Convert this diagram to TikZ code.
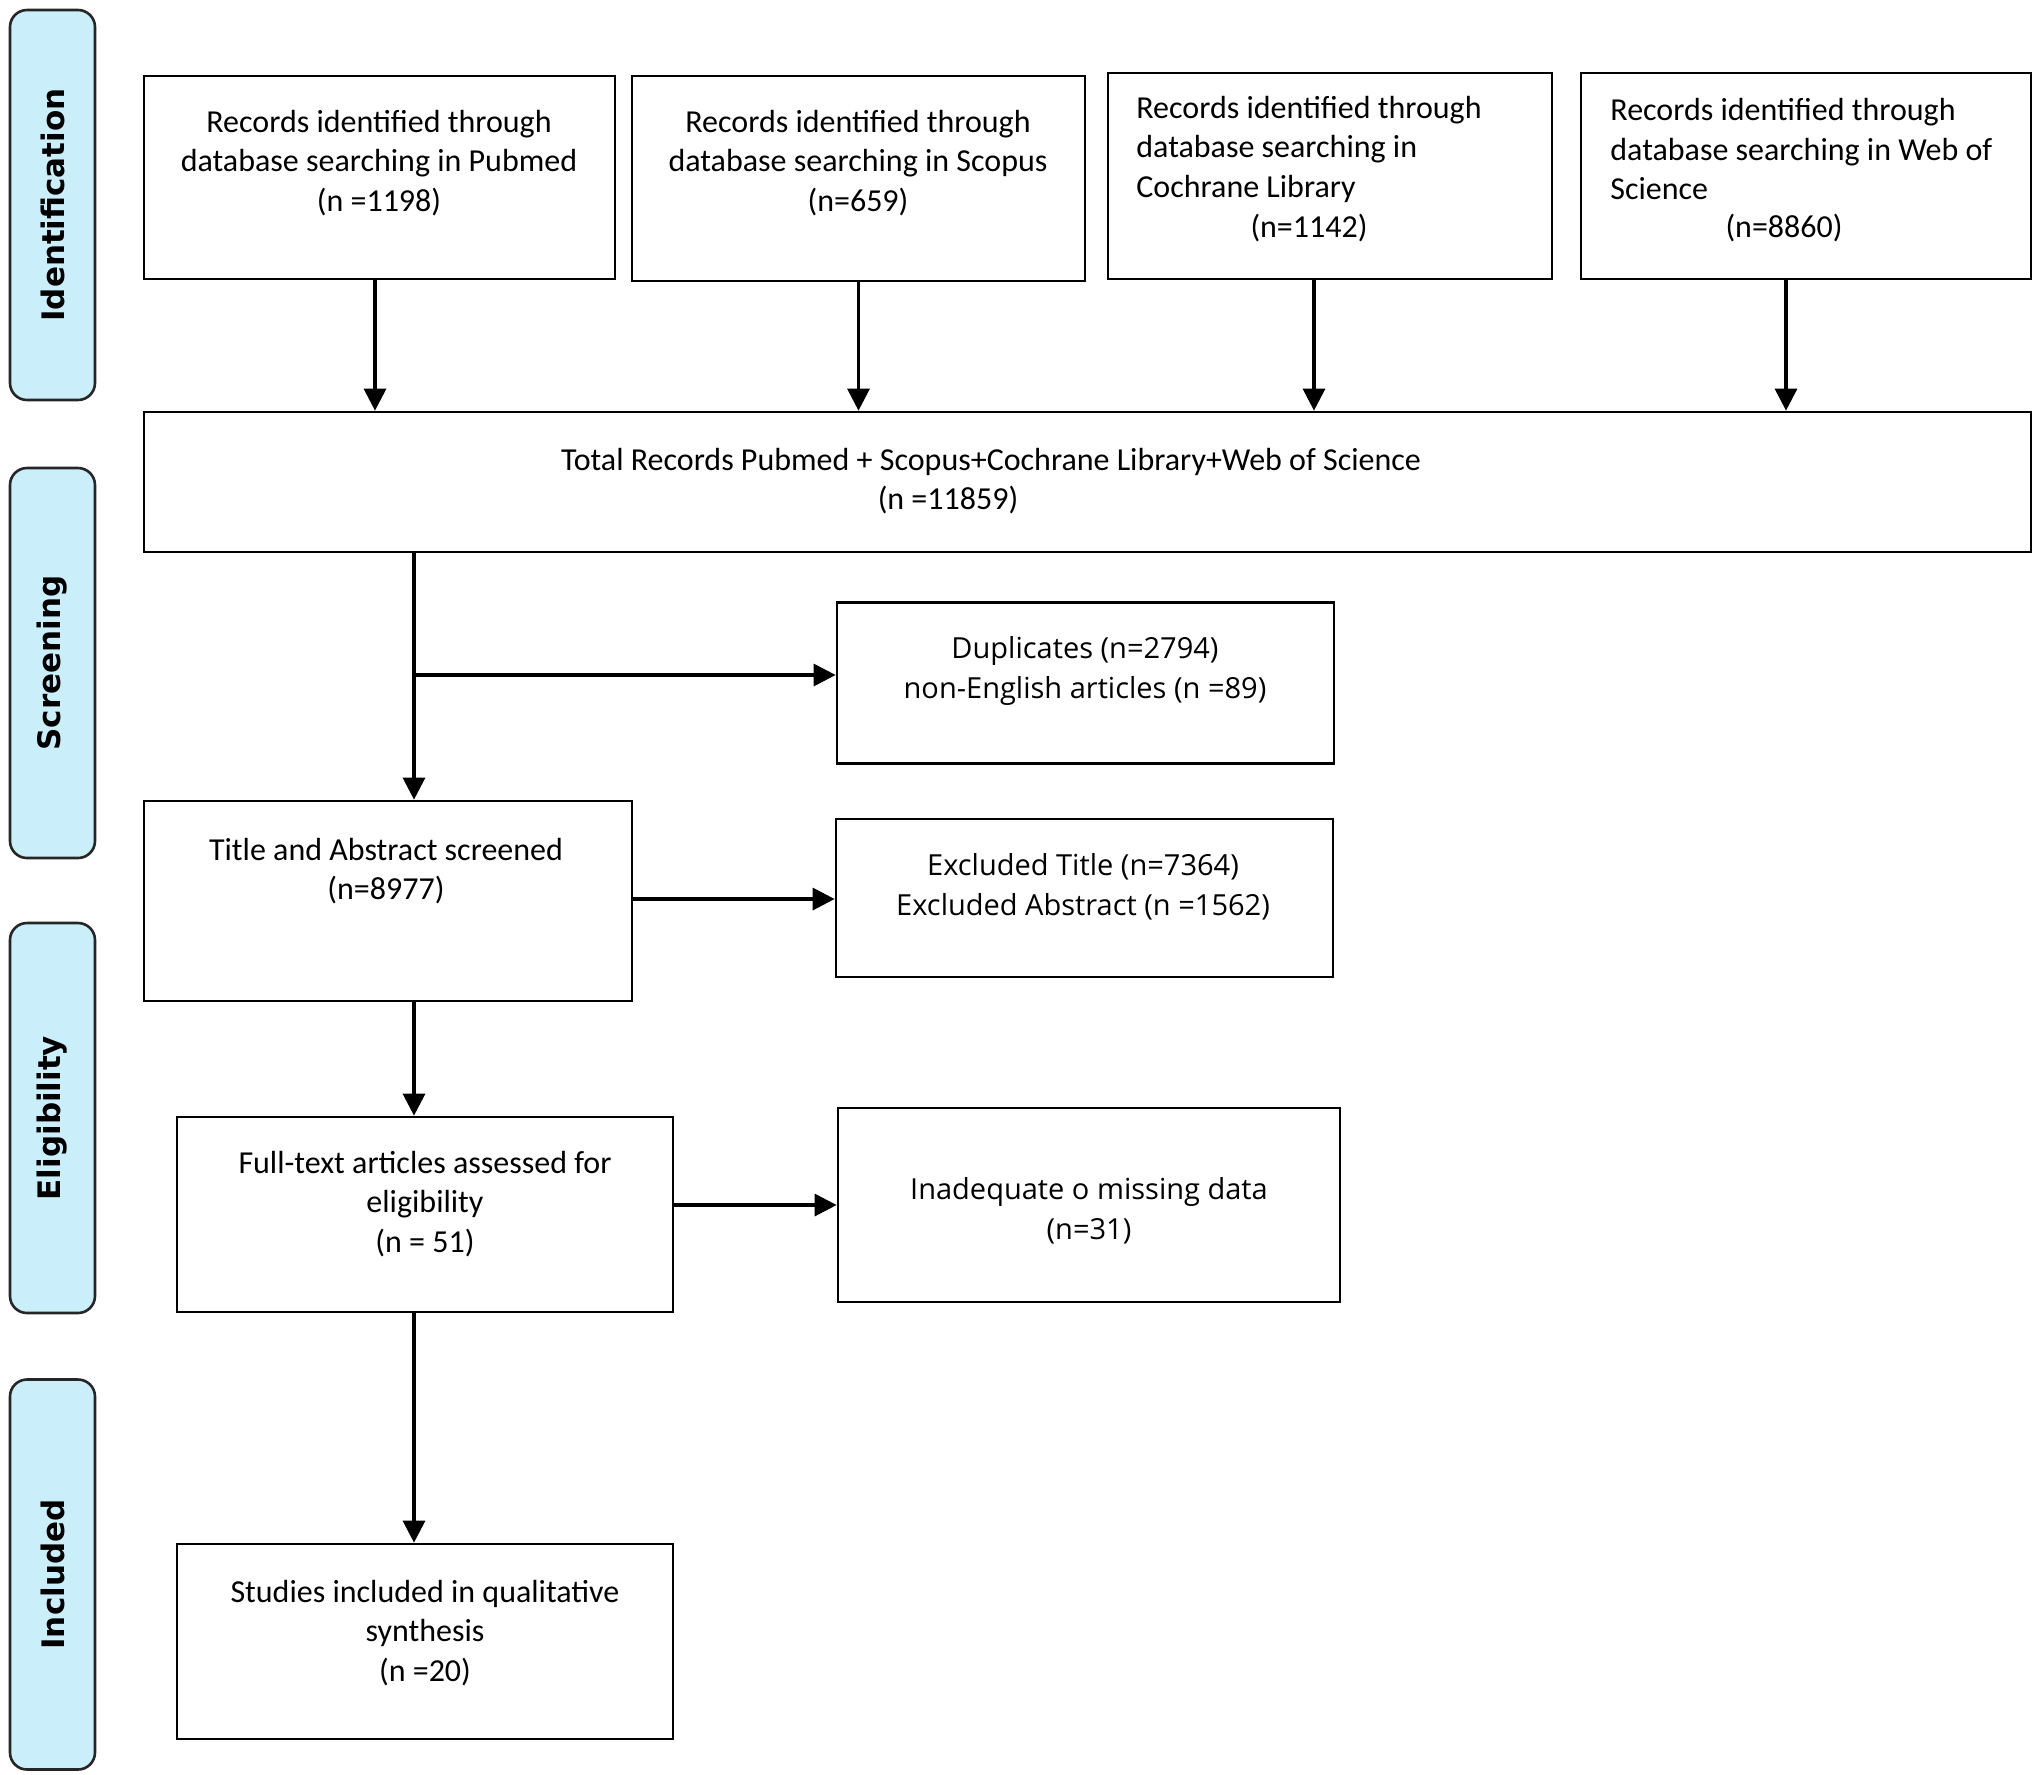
\documentclass[tikz,border=0pt]{standalone}
\usepackage{fontspec}
\setmainfont{Carlito}
\newfontfamily\widefont{Open Sans}
\newfontfamily\sidefont{DejaVu Sans}
\usetikzlibrary{arrows.meta}
\definecolor{sideblue}{HTML}{CBEEFB}
\begin{document}
\begin{tikzpicture}[x=0.5pt,y=-0.5pt,
 box/.style={draw=black,line width=1.35pt,inner sep=0pt},
 side/.style={draw=black!85,line width=1.3pt,fill=sideblue,rounded corners=8.5pt,
   font=\sidefont\bfseries\fontsize{15.5}{18}\selectfont,
   minimum width=195pt,minimum height=42.5pt,rotate=90,inner sep=0pt},
 txt/.style={inner sep=0pt,align=center,font=\fontsize{16}{19.75}\selectfont},
 wtxt/.style={inner sep=0pt,align=center,font=\widefont\fontsize{14.5}{19.75}\selectfont},
 arr/.style={line width=1.6pt,-{Triangle[length=11pt,width=11pt]}}]
\useasboundingbox (0,0) rectangle (2044,1774);
% side labels
\node[side] (ident) at (52.5,205) {Identification};
\node[side] (scr) at (52.5,663) {Screening};
\node[side] (elig) at (52.5,1118) {Eligibility};
\node[side] (incl) at (52.5,1574.5) {Included};
% boxes
\node[box,minimum width=235.5pt,minimum height=101.5pt] (pub) at (379.5,177.5) {};
\node[box,minimum width=226.5pt,minimum height=102.5pt] (sco) at (858.5,178.5) {};
\node[box,minimum width=222pt,minimum height=103pt] (coch) at (1330,176) {};
\node[box,minimum width=225pt,minimum height=103pt] (wos) at (1806,176) {};
\node[box,minimum width=943.5pt,minimum height=70pt] (total) at (1087.5,482) {};
\node[box,minimum width=248.5pt,minimum height=80.5pt] (dup) at (1085.5,683) {};
\node[box,minimum width=244pt,minimum height=100pt] (title) at (388,901) {};
\node[box,minimum width=248.5pt,minimum height=79pt] (excl) at (1084.5,898) {};
\node[box,minimum width=248pt,minimum height=97.5pt] (full) at (425,1214.5) {};
\node[box,minimum width=251pt,minimum height=97pt] (inad) at (1089,1205) {};
\node[box,minimum width=248pt,minimum height=97.5pt] (stud) at (425,1641.5) {};
% texts
\node[txt] (pubT) at (379,163) {Records identified through\\database searching in Pubmed\\(n =1198)};
\node[txt] (scoT) at (858,163) {Records identified through\\database searching in Scopus\\(n=659)};
\node[txt,anchor=west,align=left] (cochT) at (1136,149) {Records identified through\\database searching in\\Cochrane Library};
\node[txt] (cochN) at (1309,228) {(n=1142)};
\node[txt,anchor=west,align=left] (wosT) at (1610,149) {Records identified through\\database searching in Web of\\Science};
\node[txt] (wosN) at (1784,228) {(n=8860)};
\node[txt] (totT) at (991,481) {Total Records Pubmed + Scopus+Cochrane Library+Web of Science\\(n =11859)\hspace*{43pt}};
\node[wtxt] (dupT) at (1085,671) {Duplicates (n=2794)\\non-English articles (n =89)};
\node[txt] (titleT) at (386,871) {Title and Abstract screened\\(n=8977)};
\node[wtxt] (exclT) at (1083,887) {Excluded Title (n=7364)\\Excluded Abstract (n =1562)};
\node[txt] (fullT) at (425,1204) {Full-text articles assessed for\\eligibility\\(n = 51)};
\node[wtxt] (inadT) at (1089,1211) {Inadequate o missing data\\(n=31)};
\node[txt] (studT) at (425,1633) {Studies included in qualitative\\synthesis\\(n =20)};
% connectors
\coordinate (mv) at (414,675);
\draw[arr] ([xshift=-2.25pt]pub.south) -- ([xshift=-2.25pt]pub.south |- total.north);
\draw[arr] (sco.south) -- (sco.south |- total.north);
\draw[arr] ([xshift=-8pt]coch.south) -- ([xshift=-8pt]coch.south |- total.north);
\draw[arr] ([xshift=-10pt]wos.south) -- ([xshift=-10pt]wos.south |- total.north);
\draw[arr] (mv |- total.south) -- (mv |- title.north);
\draw[arr] (mv) -- (mv -| dup.west);
\draw[arr] ([yshift=1pt]title.east) -- ([yshift=1pt]title.east -| excl.west);
\draw[arr] (mv |- title.south) -- (mv |- full.north);
\draw[arr] (inad.west -| full.east) -- (inad.west);
\draw[arr] (mv |- full.south) -- (mv |- stud.north);
\end{tikzpicture}
\end{document}
